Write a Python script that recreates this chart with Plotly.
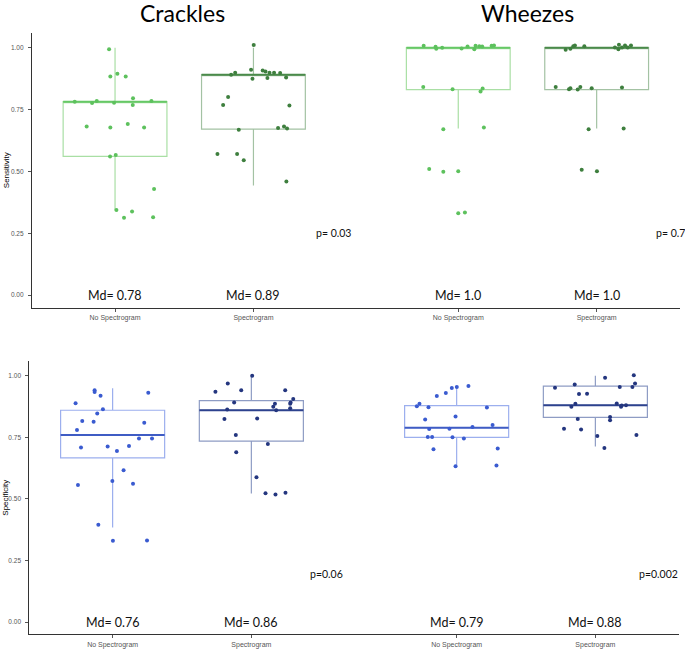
import plotly.graph_objects as go

# ---------------- data ----------------
categories = ["No Spectrogram", "Spectrogram"]
panel_titles = ["Crackles", "Wheezes"]
row_titles = ["Sensitivity", "Specificity"]
y_ticks = [0.0, 0.25, 0.5, 0.75, 1.0]
y_tick_labels = ["0.00", "0.25", "0.50", "0.75", "1.00"]

# Crackles - Sensitivity
cs_nospec_y = [0.994, 0.884, 0.895, 0.884, 0.782, 0.777, 0.785, 0.778, 0.796, 0.768, 0.785,
               0.682, 0.678, 0.692, 0.678, 0.560, 0.566, 0.429, 0.344, 0.338, 0.313, 0.315]
cs_nospec_jit = [-0.043, -0.034, 0.017, 0.077, -0.291, -0.166, -0.132, -0.007, 0.130, 0.128, 0.263,
                 -0.205, -0.034, 0.092, 0.210, -0.036, 0.005, 0.282, 0.010, 0.123, 0.065, 0.275]
cs_spec_y = [1.011, 0.891, 0.899, 0.911, 0.875, 0.908, 0.904, 0.899, 0.899, 0.898, 0.878, 0.880,
             0.801, 0.768, 0.766, 0.668, 0.676, 0.682, 0.674, 0.570, 0.570, 0.545, 0.459]
cs_spec_jit = [0.002, -0.161, -0.132, -0.017, -0.007, 0.067, 0.087, 0.116, 0.149, 0.193, 0.101, 0.236,
               -0.183, -0.219, 0.260, -0.106, 0.178, 0.221, 0.243, -0.260, -0.118, -0.070, 0.238]

# Wheezes - Sensitivity
ws_nospec_y = [1.008, 1.004, 0.996, 1.000, 0.997, 1.005, 0.994, 1.008, 1.006, 1.005, 1.008, 1.009,
               0.841, 0.832, 0.835, 0.823, 0.671, 0.678, 0.510, 0.499, 0.501, 0.331, 0.334]
ws_nospec_jit = [-0.250, -0.164, -0.159, -0.116, 0.024, 0.067, 0.116, 0.125, 0.152, 0.173, 0.241, 0.258,
                 -0.253, -0.041, 0.176, 0.161, -0.108, 0.185, -0.210, -0.108, 0.000, 0.000, 0.048]
ws_spec_y = [0.992, 0.996, 1.006, 1.009, 1.006, 1.001, 0.994, 1.012, 1.001, 1.009, 1.001, 1.009,
             0.841, 0.832, 0.836, 0.831, 0.841, 0.836, 0.839, 0.671, 0.674, 0.507, 0.501]
ws_spec_jit = [-0.224, -0.190, -0.169, -0.157, -0.089, 0.132, 0.157, 0.161, 0.183, 0.205, 0.224, 0.248,
               -0.296, -0.200, -0.190, -0.137, -0.118, -0.036, 0.183, -0.058, 0.195, -0.108, 0.002]

# Crackles - Specificity
cp_nospec_y = [0.941, 0.934, 0.919, 0.931, 0.888, 0.864, 0.847, 0.816, 0.813, 0.809, 0.780, 0.745,
               0.745, 0.709, 0.713, 0.715, 0.695, 0.616, 0.573, 0.562, 0.557, 0.395, 0.330, 0.331]
cp_nospec_jit = [-0.130, -0.130, -0.087, 0.257, -0.267, -0.070, -0.111, -0.219, -0.137, 0.228, -0.257, 0.190,
                 0.284, -0.228, -0.036, 0.118, 0.031, 0.079, -0.002, 0.147, -0.250, -0.103, 0.002, 0.248]
cp_spec_y = [1.000, 0.969, 0.935, 0.941, 0.941, 0.892, 0.906, 0.892, 0.886, 0.886, 0.874, 0.868,
             0.863, 0.860, 0.825, 0.827, 0.760, 0.690, 0.723, 0.588, 0.523, 0.518, 0.525]
cp_spec_jit = [0.006, -0.170, -0.259, -0.073, 0.244, -0.124, 0.302, 0.283, 0.280, 0.170, 0.158, 0.280,
               -0.174, 0.179, -0.194, 0.042, -0.112, -0.109, 0.119, 0.037, 0.102, 0.174, 0.246]

# Wheezes - Specificity
wp_nospec_y = [0.959, 0.954, 0.950, 0.930, 0.918, 0.886, 0.876, 0.872, 0.871, 0.835, 0.823, 0.800,
               0.792, 0.784, 0.785, 0.751, 0.751, 0.750, 0.745, 0.702, 0.705, 0.633, 0.636]
wp_nospec_jit = [0.085, 0.001, -0.035, -0.078, -0.143, -0.268, -0.287, -0.203, 0.218, -0.008, -0.227, 0.259,
                 0.114, -0.198, -0.052, -0.208, -0.177, -0.030, 0.052, -0.167, 0.296, -0.008, 0.287]
wp_spec_y = [1.002, 0.992, 0.969, 0.965, 0.951, 0.955, 0.955, 0.926, 0.927, 0.886, 0.874, 0.887,
             0.874, 0.879, 0.880, 0.825, 0.833, 0.819, 0.785, 0.782, 0.760, 0.756, 0.707]
wp_spec_jit = [0.277, 0.070, 0.286, -0.149, -0.291, 0.176, 0.267, -0.118, -0.060, -0.144, -0.173, 0.154,
               0.185, 0.190, 0.221, -0.127, 0.106, 0.106, -0.226, -0.103, 0.296, 0.014, 0.065]

# box statistics: [lower whisker, q1, median, q3, upper whisker]
cs_nospec_box = [0.342, 0.561, 0.782, 0.782, 1.000]
cs_spec_box = [0.443, 0.671, 0.891, 0.891, 1.000]
ws_nospec_box = [0.674, 0.831, 1.000, 1.000, 1.000]
ws_spec_box = [0.674, 0.831, 1.000, 1.000, 1.000]
cp_nospec_box = [0.384, 0.667, 0.760, 0.860, 0.949]
cp_spec_box = [0.522, 0.735, 0.860, 0.899, 1.000]
wp_nospec_box = [0.633, 0.750, 0.789, 0.879, 0.958]
wp_spec_box = [0.713, 0.831, 0.880, 0.958, 1.000]

md_labels_sens = ["Md= 0.78", "Md= 0.89", "Md= 1.0", "Md= 1.0"]
md_labels_spec = ["Md= 0.76", "Md= 0.86", "Md= 0.79", "Md= 0.88"]
p_labels_sens = ["p= 0.03", "p= 0.7"]
p_labels_spec = ["p=0.06", "p=0.002"]
p_y_sens = 0.252
p_y_spec = 0.197

# ---------------- styling ----------------
W, H = 685, 649
positions = [1.0, 2.0, 3.48, 4.48]
box_w = 0.75
green_light = dict(pt="#5DC15D", box="#A9DFA4", med="#66C866")
green_dark = dict(pt="#3E7F3E", box="#A3C2A3", med="#4A8A4A")
blue_light = dict(pt="#3A5BD0", box="#9CAFEE", med="#3F5CC4")
blue_dark = dict(pt="#24367F", box="#8E9CC4", med="#2D428E")

fig = go.Figure()

rows = [
    dict(xa="x", ya="y", groups=[
        (cs_nospec_y, cs_nospec_jit, cs_nospec_box, green_light),
        (cs_spec_y, cs_spec_jit, cs_spec_box, green_dark),
        (ws_nospec_y, ws_nospec_jit, ws_nospec_box, green_light),
        (ws_spec_y, ws_spec_jit, ws_spec_box, green_dark)],
        md=md_labels_sens, p=p_labels_sens, py=p_y_sens, px=[2.575, 5.01]),
    dict(xa="x2", ya="y2", groups=[
        (cp_nospec_y, cp_nospec_jit, cp_nospec_box, blue_light),
        (cp_spec_y, cp_spec_jit, cp_spec_box, blue_dark),
        (wp_nospec_y, wp_nospec_jit, wp_nospec_box, blue_light),
        (wp_spec_y, wp_spec_jit, wp_spec_box, blue_dark)],
        md=md_labels_spec, p=p_labels_spec, py=p_y_spec, px=[2.545, 4.935]),
]

annotations = []
for r in rows:
    for pos, (yv, jit, st, col) in zip(positions, r["groups"]):
        fig.add_trace(go.Box(
            x=[pos], lowerfence=[st[0]], q1=[st[1]], median=[st[2]], q3=[st[3]],
            upperfence=[st[4]], width=box_w, whiskerwidth=0, boxpoints=False,
            line=dict(color=col["box"], width=1.2), fillcolor="rgba(0,0,0,0)",
            xaxis=r["xa"], yaxis=r["ya"], showlegend=False, hoverinfo="skip"))
        fig.add_trace(go.Scatter(
            x=[pos - box_w / 2, pos + box_w / 2], y=[st[2], st[2]], mode="lines",
            line=dict(color=col["med"], width=2), xaxis=r["xa"], yaxis=r["ya"],
            showlegend=False, hoverinfo="skip"))
        fig.add_trace(go.Scatter(
            x=[pos + j for j in jit], y=yv, mode="markers",
            marker=dict(color=col["pt"], size=4), xaxis=r["xa"], yaxis=r["ya"],
            showlegend=False))
    xref = r["xa"]
    yref = r["ya"]
    for pos, t in zip(positions, r["md"]):
        annotations.append(dict(x=pos, y=0.0, xref=xref, yref=yref, text=t, showarrow=False,
                                xanchor="center", yanchor="middle",
                                font=dict(family="Lato", size=12.5, color="#111111")))
    for px, t in zip(r["px"], r["p"]):
        annotations.append(dict(x=px, y=r["py"], xref=xref, yref=yref, text=t, showarrow=False,
                                xanchor="center", yanchor="middle",
                                font=dict(family="Lato", size=10.5, color="#111111")))

# panel titles
for t, xc in zip(panel_titles, [183, 527]):
    annotations.append(dict(x=xc / W, y=1 - 13 / H, xref="paper", yref="paper", text=t,
                            showarrow=False, xanchor="center", yanchor="middle",
                            font=dict(family="Lato", size=23, color="#000000")))
# y titles
for t, yc in zip(row_titles, [171, 500]):
    annotations.append(dict(x=6 / W, y=1 - yc / H, xref="paper", yref="paper", text=t,
                            showarrow=False, textangle=-90, xanchor="center", yanchor="middle",
                            font=dict(family="Liberation Sans", size=8, color="#000000")))

tickvals_x = positions
ticktext_x = categories * 2
xcommon = dict(range=[0.4, 5.08], tickvals=tickvals_x, ticktext=ticktext_x, showgrid=False,
               zeroline=False, showline=True, linecolor="#333333", linewidth=1.2,
               ticks="outside", ticklen=3, tickcolor="#555555", tickwidth=1,
               tickfont=dict(family="Liberation Sans", size=7, color="#555555"))
ycommon = dict(range=[-0.05, 1.06], tickvals=y_ticks, ticktext=y_tick_labels, showgrid=False,
               zeroline=False, showline=True, linecolor="#333333", linewidth=1.2,
               ticks="outside", ticklen=3, tickcolor="#555555", tickwidth=1,
               ticklabelstandoff=3,
               tickfont=dict(family="Liberation Sans", size=6.5, color="#555555"))

fig.update_layout(
    width=W, height=H, margin=dict(l=0, r=0, t=0, b=0),
    paper_bgcolor="white", plot_bgcolor="white",
    xaxis=dict(domain=[32 / W, 679.7 / W], anchor="y", **xcommon),
    yaxis=dict(domain=[1 - 309 / H, 1 - 33 / H], anchor="x", **ycommon),
    xaxis2=dict(domain=[29.4 / W, 678.6 / W], anchor="y2", **xcommon),
    yaxis2=dict(domain=[1 - 637.3 / H, 1 - 362.7 / H], anchor="x2", **ycommon),
    annotations=annotations,
    showlegend=False,
)

fig.write_html("out.html", config={"displayModeBar": False},
               post_script="document.body.style.margin='0';document.body.style.overflow='hidden';")
